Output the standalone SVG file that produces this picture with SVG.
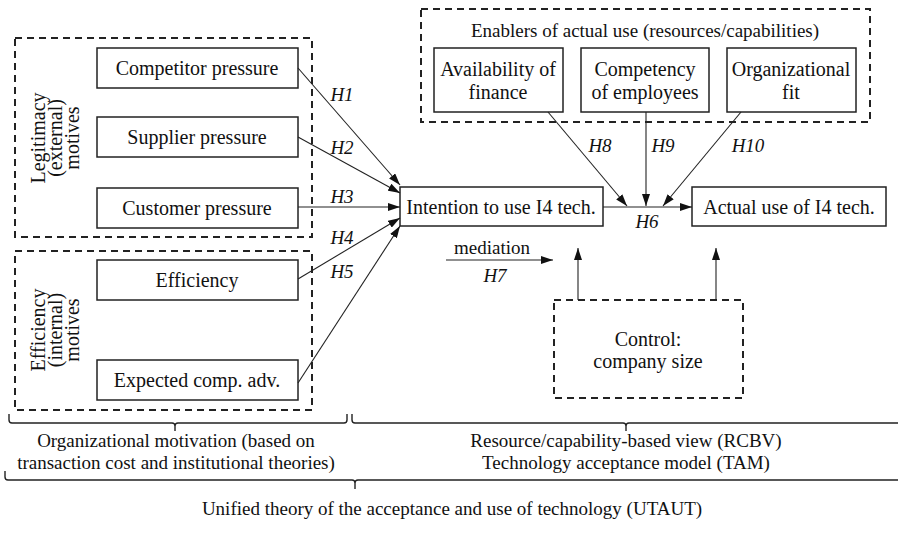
<svg xmlns="http://www.w3.org/2000/svg" width="898" height="538" viewBox="0 0 898 538" font-family="'Liberation Serif', Tinos, 'Times New Roman', 'DejaVu Serif', serif">
<defs>
<style>
text{font-family:"Liberation Serif",Tinos,"Times New Roman","DejaVu Serif",serif;font-size:20px;fill:#111;text-anchor:middle}
.it{font-style:italic;font-size:19px}
.lb{font-size:19px}
.box{fill:#fff;stroke:#222;stroke-width:1.5}
.dash{fill:none;stroke:#222;stroke-width:2;stroke-dasharray:7,5}
.ln{fill:none;stroke:#222;stroke-width:1.1}
.br{fill:none;stroke:#222;stroke-width:1.4}
</style>
<marker id="ah" viewBox="0 0 12 8" refX="12" refY="4" markerWidth="12" markerHeight="8" markerUnits="userSpaceOnUse" orient="auto">
<path d="M0,0 L12,4 L0,8 z" fill="#111"/>
</marker>
</defs>
<rect width="898" height="538" fill="#fff"/>

<g id="legitimacy-group">
<rect class="dash" x="15" y="38" width="297" height="199"/>
<text transform="rotate(-90)" x="-138" y="45">Legitimacy</text>
<text transform="rotate(-90)" x="-138" y="62">(external)</text>
<text transform="rotate(-90)" x="-138" y="79">motives</text>
</g>
<g id="efficiency-group">
<rect class="dash" x="15" y="251" width="297" height="159"/>
<text transform="rotate(-90)" x="-330" y="45">Efficiency</text>
<text transform="rotate(-90)" x="-330" y="62">(internal)</text>
<text transform="rotate(-90)" x="-330" y="79">motives</text>
</g>
<g id="enablers-group">
<rect class="dash" x="421" y="9" width="449" height="113"/>
<text class="lb" x="645" y="37">Enablers of actual use (resources/capabilities)</text>
</g>

<g id="competitor"><rect class="box" x="97" y="48" width="201" height="40"/><text x="197" y="75">Competitor pressure</text></g>
<g id="supplier"><rect class="box" x="97" y="117" width="201" height="40"/><text x="197" y="144">Supplier pressure</text></g>
<g id="customer"><rect class="box" x="97" y="188" width="201" height="40"/><text x="197" y="215">Customer pressure</text></g>
<g id="efficiency"><rect class="box" x="97" y="260" width="201" height="40"/><text x="197" y="287">Efficiency</text></g>
<g id="expected"><rect class="box" x="97" y="360" width="201" height="40"/><text x="197" y="387">Expected comp. adv.</text></g>
<g id="intention"><rect class="box" x="400" y="187" width="203" height="39"/><text x="501" y="214">Intention to use I4 tech.</text></g>
<g id="actual"><rect class="box" x="692" y="187" width="194" height="39"/><text x="789" y="214">Actual use of I4 tech.</text></g>
<g id="finance"><rect class="box" x="434" y="48" width="129" height="64"/><text x="498" y="76">Availability of</text><text x="498" y="99">finance</text></g>
<g id="competency"><rect class="box" x="581" y="48" width="128" height="64"/><text x="645" y="76">Competency</text><text x="645" y="99">of employees</text></g>
<g id="orgfit"><rect class="box" x="727" y="48" width="129" height="64"/><text x="791" y="76">Organizational</text><text x="791" y="99">fit</text></g>
<g id="control"><rect class="dash" x="554" y="300" width="189" height="98"/><text x="648" y="346">Control:</text><text x="648" y="368">company size</text></g>

<g id="connectors">
<line class="ln" x1="298" y1="68" x2="400" y2="185" marker-end="url(#ah)"/>
<line class="ln" x1="298" y1="137" x2="400" y2="193" marker-end="url(#ah)"/>
<line class="ln" x1="298" y1="207" x2="400" y2="207" marker-end="url(#ah)"/>
<line class="ln" x1="298" y1="279" x2="400" y2="218" marker-end="url(#ah)"/>
<line class="ln" x1="298" y1="383" x2="400" y2="226" marker-end="url(#ah)"/>
<line class="ln" x1="603" y1="207" x2="692" y2="207" marker-end="url(#ah)"/>
<line class="ln" x1="548" y1="112" x2="627" y2="206" marker-end="url(#ah)"/>
<line class="ln" x1="646" y1="112" x2="646" y2="206" marker-end="url(#ah)"/>
<line class="ln" x1="741" y1="112" x2="663" y2="206" marker-end="url(#ah)"/>
<line class="ln" x1="446" y1="260" x2="553" y2="260" marker-end="url(#ah)"/>
<line class="ln" x1="578" y1="300" x2="578" y2="248" marker-end="url(#ah)"/>
<line class="ln" x1="716" y1="300" x2="716" y2="248" marker-end="url(#ah)"/>
<text class="it" x="342" y="101">H1</text>
<text class="it" x="342" y="154">H2</text>
<text class="it" x="342" y="203">H3</text>
<text class="it" x="342" y="244">H4</text>
<text class="it" x="342" y="278">H5</text>
<text class="it" x="647" y="228">H6</text>
<text class="lb" x="492" y="254">mediation</text>
<text class="it" x="495" y="282">H7</text>
<text class="it" x="600" y="152">H8</text>
<text class="it" x="663" y="152">H9</text>
<text class="it" x="748" y="152">H10</text>
</g>

<g id="brackets">
<path class="br" d="M9,414 V420 Q9,423 12,423 H172 Q175,423 175,426 V431 M175,426 Q175,423 178,423 H344 Q347,423 347,420 V414"/>
<path class="br" d="M352,414 V420 Q352,423 355,423 H623 Q626,423 626,426 V431 M626,426 Q626,423 629,423 H898"/>
<path class="br" d="M5,471 V477 Q5,480 8,480 H352 Q355,480 355,483 V489 M355,483 Q355,480 358,480 H898"/>
<text class="lb" x="176" y="447">Organizational motivation (based on</text>
<text class="lb" x="176" y="469">transaction cost and institutional theories)</text>
<text class="lb" x="626" y="447">Resource/capability-based view (RCBV)</text>
<text class="lb" x="626" y="469">Technology acceptance model (TAM)</text>
<text class="lb" x="452" y="515">Unified theory of the acceptance and use of technology (UTAUT)</text>
</g>
</svg>
